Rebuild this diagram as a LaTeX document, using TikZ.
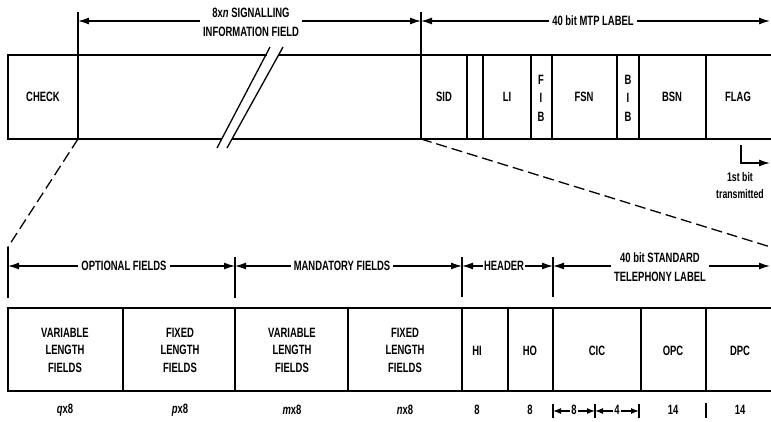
\documentclass[tikz,border=0pt]{standalone}
\usepackage{fontspec}
\setmainfont{Liberation Sans}[FakeStretch=0.7, UprightFont={* Bold}, ItalicFont={* Bold Italic}]
\usetikzlibrary{arrows.meta}
\begin{document}
\begin{tikzpicture}[x=1pt, y=-1pt, line width=1.3pt,
  txt/.style={font=\fontsize{13.5}{18.5}\selectfont, inner sep=1pt, align=center},
  three/.style={font=\fontsize{13.5}{17.5}\selectfont, inner sep=1pt, align=center},
  lab/.style={font=\fontsize{13.5}{19}\selectfont, fill=white, inner ysep=1pt, inner xsep=3pt, align=center},
  dimarrow/.style={{Latex[length=11pt,width=7pt]}-{Latex[length=11pt,width=7pt]}},
  smallarrow/.style={{Latex[length=8pt,width=6pt]}-{Latex[length=8pt,width=6pt]}},
  dashline/.style={dash pattern=on 11pt off 5pt}]
\useasboundingbox (0,0) rectangle (771,421);
% ---------- top frame ----------
\coordinate (tl) at (8,55); \coordinate (bl) at (8,139);
\draw (267,55) -- (tl) -- (bl) -- (222,139);
\draw (278.6,55) -- (790,55);
\draw (232,139) -- (790,139);
\draw (270,47) -- (217,148);
\draw (283,47) -- (227,148);
% dividers
\coordinate (chkT) at (78,12); \coordinate (chkB) at (78,139);
\coordinate (sidT) at (421,12); \coordinate (sidB) at (421,139);
\draw (chkT) -- (chkB);
\draw (sidT) -- (sidB);
\foreach \x in {467,483,531,552,617,639,706} \draw (\x,55) -- (\x,139);
% labels
\node[txt] (check) at (43,97) {CHECK};
\node[txt] (sid) at (444,97) {SID};
\node[txt] (li) at (507,97) {LI};
\node[txt] (fib) at (541,98) {F\\I\\B};
\node[txt] (fsn) at (584,97) {FSN};
\node[txt] (bib) at (628,98) {B\\I\\B};
\node[txt] (bsn) at (672,97) {BSN};
\node[txt] (flag) at (738,97) {FLAG};
% top dimension arrows
\coordinate (a1) at (78,21); \coordinate (a2) at (421,21); \coordinate (a3) at (770,21);
\draw[dimarrow] (a1) -- (a2);
\draw[dimarrow] (a2) -- (a3);
\node[lab] (sif) at (251,22.5) {8x\textit{n} SIGNALLING\\INFORMATION FIELD};
\node[lab] (mtp) at (593,21) {40 bit MTP LABEL};
% first bit
\coordinate (fb1) at (741,145); \coordinate (fb2) at (770,163);
\draw[-{Latex[length=11pt,width=7pt]}] (fb1) |- (fb2);
\node[txt, font=\fontsize{12.5}{17}\selectfont] (firstbit) at (740,186) {1st bit\\transmitted};
% dashed expansion lines
\coordinate (dl) at (8,247); \coordinate (dr) at (790,253);
\draw[dashline] (chkB) -- (dl);
\draw[dashline] (sidB) -- (dr);
% ---------- middle dimension arrows ----------
\draw (dl) -- (8,298);
\draw (235,257) -- (235,298);
\draw (462,257) -- (462,297);
\draw (553,257) -- (553,297);
\coordinate (m0) at (8,266); \coordinate (m1) at (235,266);
\coordinate (m2) at (462,266); \coordinate (m3) at (553,266);
\coordinate (m4) at (770,266);
\draw[dimarrow] (m0) -- (m1);
\draw[dimarrow] (m1) -- (m2);
\draw[dimarrow] (m2) -- (m3);
\draw[dimarrow] (m3) -- (m4);
\node[lab] (opt) at (124,266) {OPTIONAL FIELDS};
\node[lab] (man) at (342,266) {MANDATORY FIELDS};
\node[lab, inner xsep=1.5pt] (hdr) at (504,266) {HEADER};
\node[lab] (stl) at (660,267.5) {40 bit STANDARD\\TELEPHONY LABEL};
% ---------- bottom frame ----------
\draw (790,308) -- (8,308) -- (8,391) -- (790,391);
\foreach \x in {123,235,348,462,508,553,641,706} \draw (\x,308) -- (\x,391);
\node[three] (vl1) at (65,350) {VARIABLE\\LENGTH\\FIELDS};
\node[three] (fl1) at (180,350) {FIXED\\LENGTH\\FIELDS};
\node[three] (vl2) at (292,350) {VARIABLE\\LENGTH\\FIELDS};
\node[three] (fl2) at (405,350) {FIXED\\LENGTH\\FIELDS};
\node[txt] (hi) at (477,351) {HI};
\node[txt] (ho) at (530,351) {HO};
\node[txt] (cic) at (597,351) {CIC};
\node[txt] (opc) at (673,351) {OPC};
\node[txt] (dpc) at (740,351) {DPC};
% bottom sizes
\node[txt] (sq) at (65,410) {\textit{q}x8};
\node[txt] (sp) at (180,410) {\textit{p}x8};
\node[txt] (sm) at (292,410) {\textit{m}x8};
\node[txt] (sn) at (405,410) {\textit{n}x8};
\node[txt] (shi) at (477,410) {8};
\node[txt] (sho) at (530,410) {8};
\node[txt] (sopc) at (673,410) {14};
\node[txt] (sdpc) at (740,410) {14};
\foreach \x in {553,595,639} \draw (\x,404) -- (\x,418);
\draw (706,403) -- (706,418);
\coordinate (c0) at (553,411); \coordinate (c1) at (595,411); \coordinate (c2) at (639,411);
\draw[smallarrow] (c0) -- (c1);
\draw[smallarrow] (c1) -- (c2);
\node[lab, inner xsep=1pt] (s8) at (574,410) {8};
\node[lab, inner xsep=1pt] (s4) at (617,410) {4};
\end{tikzpicture}
\end{document}
